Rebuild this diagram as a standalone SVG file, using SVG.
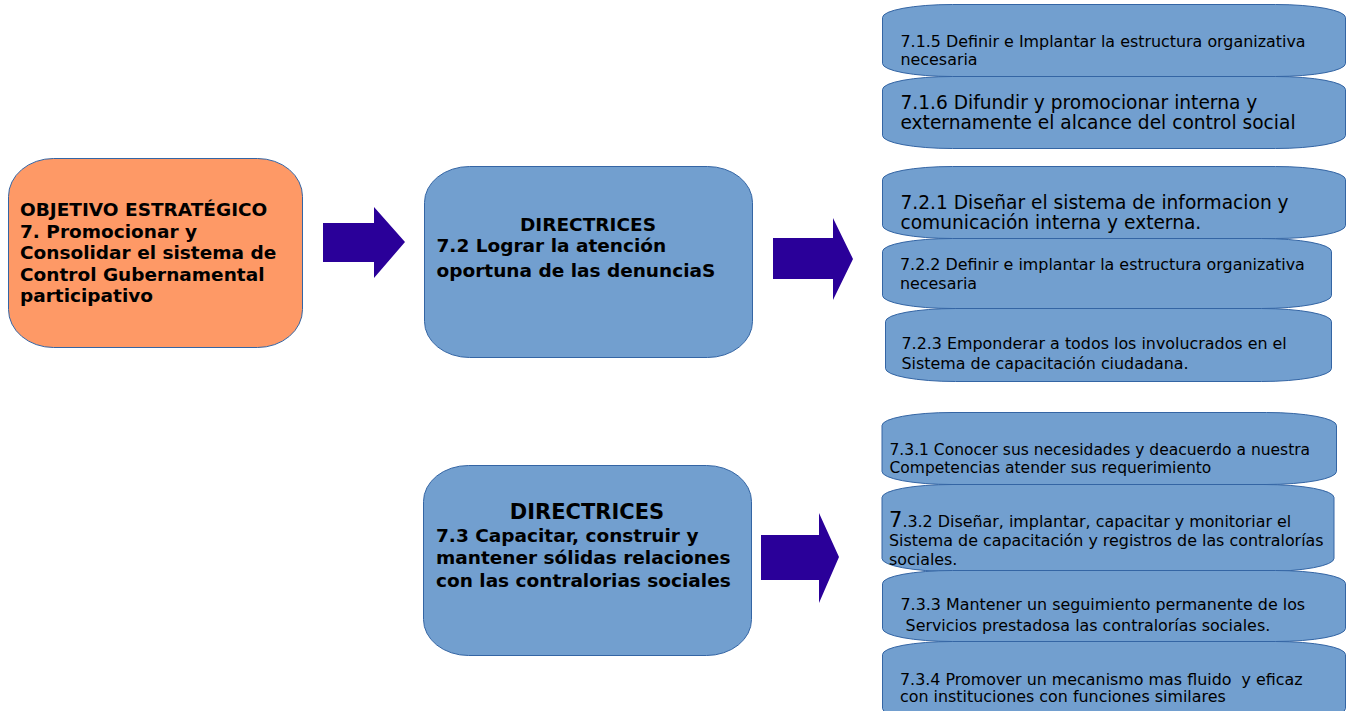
<svg xmlns="http://www.w3.org/2000/svg" width="1350" height="711" viewBox="0 0 1350 711">
<style>
.main{stroke:#3465a4;stroke-width:1}
.orange{fill:#fe9966}
.blue{fill:#729fcf}
.arrow{fill:#2a0099}
.b{font-family:"DejaVu Sans",Verdana,sans-serif;font-weight:bold;font-size:18.5px;fill:#000}
.r{font-family:"DejaVu Sans",Verdana,sans-serif;font-size:15.9px;fill:#000}
.rl{font-family:"DejaVu Sans",Verdana,sans-serif;font-size:18.6px;fill:#000}
</style>
<rect width="1350" height="711" fill="#fff"/>
<g id="connectors">
<polygon class="arrow" points="323,223 374,223 374,207 405,242 374,278 374,262 323,262"/>
<polygon class="arrow" points="773,238 833,238 833,218 853,259 833,300 833,279 773,279"/>
<polygon class="arrow" points="761,535 819,535 819,513 839,557 819,603 819,580 761,580"/>
</g>
<g id="objetivo">
<rect class="main orange" x="8.5" y="158.5" width="294" height="189" rx="45" ry="38"/>
<text class="b"><tspan x="20" y="216">OBJETIVO ESTRATÉGICO</tspan><tspan x="20" y="237.5">7. Promocionar y</tspan><tspan x="20" y="259">Consolidar el sistema de</tspan><tspan x="20" y="280.5">Control Gubernamental</tspan><tspan x="20" y="302">participativo</tspan></text>
</g>
<g id="directrices72">
<rect class="main blue" x="424.5" y="166.5" width="328" height="191" rx="45" ry="36"/>
<text class="b"><tspan x="588" y="231" text-anchor="middle">DIRECTRICES</tspan><tspan x="436.5" y="252">7.2 Lograr la atención</tspan><tspan x="436.5" y="277">oportuna de las denunciaS</tspan></text>
</g>
<g id="directrices73">
<rect class="main blue" x="423.5" y="465.5" width="328" height="190" rx="45" ry="36"/>
<text class="b"><tspan x="587" y="519" text-anchor="middle" font-size="21px">DIRECTRICES</tspan><tspan x="436" y="542">7.3 Capacitar, construir y</tspan><tspan x="436" y="564">mantener sólidas relaciones</tspan><tspan x="436" y="587">con las contralorias sociales</tspan></text>
</g>
<g id="n715">
<rect class="main blue" x="882.5" y="4.5" width="463" height="72" rx="70" ry="13"/>
<text class="r"><tspan x="900.5" y="46.5">7.1.5 Definir e Implantar la estructura organizativa</tspan><tspan x="900.5" y="64.5">necesaria</tspan></text>
</g>
<g id="n716">
<rect class="main blue" x="882.5" y="76.5" width="463" height="72" rx="70" ry="13"/>
<text class="rl"><tspan x="900.5" y="108.5">7.1.6 Difundir y promocionar interna y</tspan><tspan x="900.5" y="128.5">externamente el alcance del control social</tspan></text>
</g>
<g id="n721">
<rect class="main blue" x="882.5" y="166.5" width="463" height="72" rx="70" ry="13"/>
<text class="rl"><tspan x="900.5" y="208.5">7.2.1 Diseñar el sistema de informacion y</tspan><tspan x="900.5" y="228.5">comunicación interna y externa.</tspan></text>
</g>
<g id="n722">
<rect class="main blue" x="882.5" y="238.5" width="449" height="70" rx="70" ry="13"/>
<text class="r"><tspan x="900" y="270">7.2.2 Definir e implantar la estructura organizativa</tspan><tspan x="900" y="288.5">necesaria</tspan></text>
</g>
<g id="n723">
<rect class="main blue" x="885.5" y="308.5" width="446" height="73" rx="70" ry="13"/>
<text class="r"><tspan x="901.5" y="348.5">7.2.3 Emponderar a todos los involucrados en el</tspan><tspan x="901.5" y="368.5">Sistema de capacitación ciudadana.</tspan></text>
</g>
<g id="n731">
<rect class="main blue" x="882" y="412.5" width="454.5" height="72" rx="70" ry="13"/>
<text class="r" font-size="15.5px" style="font-size:15.5px"><tspan x="889.5" y="454.5">7.3.1 Conocer sus necesidades y deacuerdo a nuestra</tspan><tspan x="889.5" y="472.5">Competencias atender sus requerimiento</tspan></text>
</g>
<g id="n732">
<rect class="main blue" x="882" y="484.5" width="452" height="87" rx="70" ry="13"/>
<text class="r"><tspan x="889" y="527"><tspan font-size="21px" style="font-size:21px">7</tspan>.3.2 Diseñar, implantar, capacitar y monitoriar el</tspan><tspan x="889" y="546">Sistema de capacitación y registros de las contralorías</tspan><tspan x="889" y="565">sociales.</tspan></text>
</g>
<g id="n733">
<rect class="main blue" x="882.5" y="570.5" width="463" height="71" rx="70" ry="13"/>
<text class="r" xml:space="preserve"><tspan x="900.5" y="610">7.3.3 Mantener un seguimiento permanente de los</tspan><tspan x="900.5" y="631"> Servicios prestadosa las contralorías sociales.</tspan></text>
</g>
<g id="n734">
<rect class="main blue" x="882.5" y="641.5" width="463" height="80" rx="70" ry="13"/>
<text class="r" xml:space="preserve"><tspan x="900" y="685">7.3.4 Promover un mecanismo mas fluido  y eficaz</tspan><tspan x="900" y="702">con instituciones con funciones similares</tspan></text>
</g>
</svg>
